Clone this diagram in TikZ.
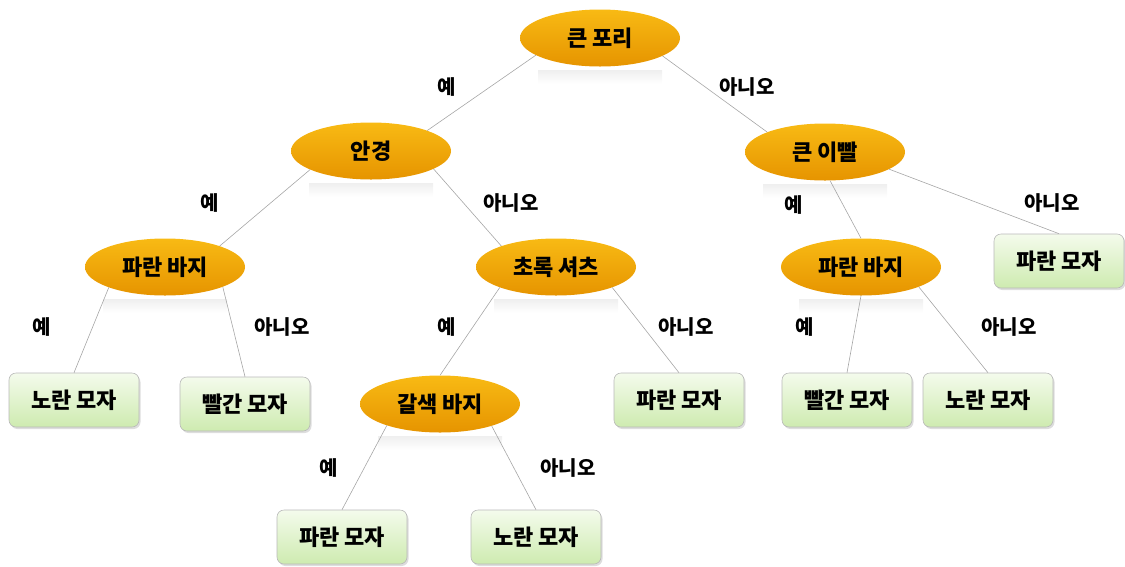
\documentclass[tikz,border=0pt]{standalone}
\usepackage{fontspec}
\setmainfont{Noto Sans CJK KR}
\usepackage{tikz}
\usetikzlibrary{shapes.geometric,shadows}
\definecolor{orangetop}{RGB}{248,186,20}
\definecolor{orangebot}{RGB}{230,148,0}
\definecolor{leaftop}{RGB}{244,251,236}
\definecolor{leafbot}{RGB}{206,235,176}
\newcommand{\yes}{예}
\newcommand{\no}{아니오}

\begin{document}
\begin{tikzpicture}[x=1pt,y=-1pt,
  question/.style={ellipse,inner sep=0pt,minimum width=160pt,minimum height=57pt,
    top color=orangetop,bottom color=orangebot,font=\fontsize{22}{26}\selectfont\bfseries},
  leaf/.style={rectangle,rounded corners=7pt,inner sep=0pt,minimum width=130pt,minimum height=54pt,
    draw=gray!55,line width=0.6pt,top color=leaftop,bottom color=leafbot,
    drop shadow={shadow xshift=1.5pt,shadow yshift=-2pt,fill=gray!45,opacity=0.6},
    font=\fontsize{22}{26}\selectfont\bfseries},
  answer/.style={font=\fontsize{20}{24}\selectfont\bfseries},
  branch/.style={draw=gray!70,line width=0.6pt}]
\useasboundingbox (0,0) rectangle (1125,566);
\node[question] (tail) at (600,38) {큰 포리};
\node[question] (glasses) at (371,151) {안경};
\node[question] (teeth) at (825,152) {큰 이빨};
\node[question] (bluepantsL) at (165,267) {파란 바지};
\node[question] (greenshirt) at (556,267) {초록 셔츠};
\node[question] (bluepantsR) at (861,267) {파란 바지};
\node[question] (brownpants) at (440,404) {갈색 바지};
\node[leaf] (yhatL) at (74,400) {노란 모자};
\node[leaf] (rhatL) at (245,404) {빨간 모자};
\node[leaf] (bhatM) at (679,400) {파란 모자};
\node[leaf] (rhatR) at (847,400) {빨간 모자};
\node[leaf] (yhatR) at (988,400) {노란 모자};
\node[leaf] (bhatR) at (1059,261) {파란 모자};
\node[leaf] (bhatB) at (342,537) {파란 모자};
\node[leaf] (yhatB) at (536,537) {노란 모자};
\foreach \q in {tail,glasses,teeth,bluepantsL,greenshirt,bluepantsR,brownpants}
  \shade[top color=gray!12,bottom color=white] ([xshift=-62pt,yshift=-4pt]\q.south) rectangle ([xshift=62pt,yshift=-17pt]\q.south);
\draw[branch] (tail.195) -- (glasses.20);
\draw[branch] (tail.344) -- (teeth.161);
\draw[branch] (glasses.197) -- (bluepantsL.21);
\draw[branch] (glasses.344) -- (greenshirt.159);
\draw[branch] (teeth.280) -- (bluepantsR.north);
\draw[branch] (teeth.345) -- (bhatR.north);
\draw[branch] (bluepantsL.200) -- (yhatL.north);
\draw[branch] (bluepantsL.341) -- (rhatL.north);
\draw[branch] (greenshirt.200) -- (brownpants.north);
\draw[branch] (greenshirt.340) -- (bhatM.north);
\draw[branch] (bluepantsR.south) -- (rhatR.north);
\draw[branch] (bluepantsR.341) -- (yhatR.north);
\draw[branch] (brownpants.202) -- (bhatB.north);
\draw[branch] (brownpants.337) -- (yhatB.north);
\node[answer] (y1) at (447,87) {\yes};
\node[answer] (n1) at (747,87) {\no};
\node[answer] (y2) at (210,203) {\yes};
\node[answer] (n2) at (511,203) {\no};
\node[answer] (y3) at (794,205) {\yes};
\node[answer] (n3) at (1052,203) {\no};
\node[answer] (y4) at (42,327) {\yes};
\node[answer] (n4) at (282,327) {\no};
\node[answer] (y5) at (447,327) {\yes};
\node[answer] (n5) at (686,327) {\no};
\node[answer] (y6) at (805,327) {\yes};
\node[answer] (n6) at (1009,327) {\no};
\node[answer] (y7) at (329,468) {\yes};
\node[answer] (n7) at (568,468) {\no};
\end{tikzpicture}
\end{document}
